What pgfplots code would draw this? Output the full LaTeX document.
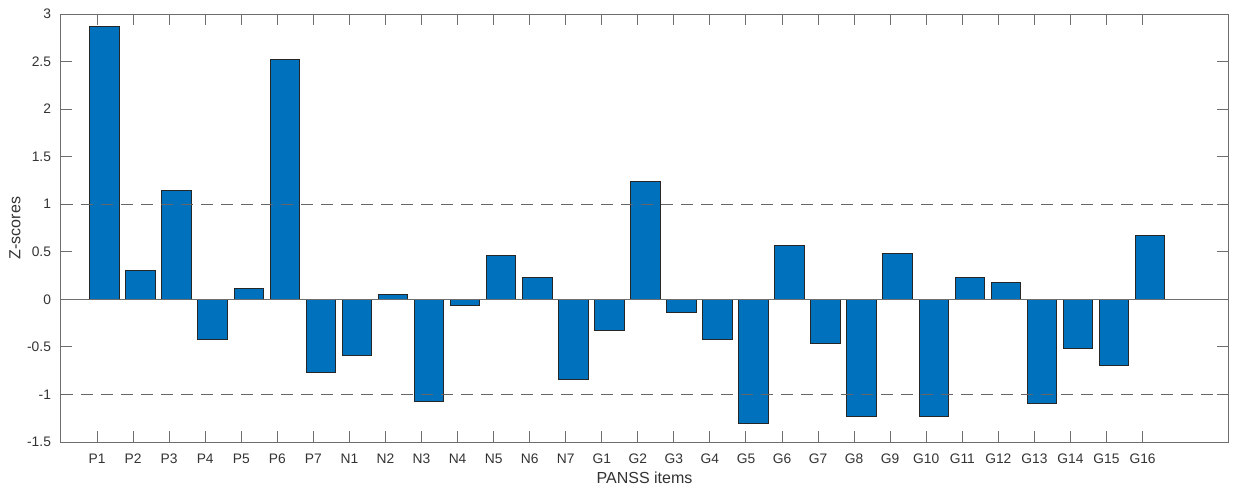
\documentclass[border=0pt]{standalone}
\usepackage{pgfplots}
\pgfplotsset{compat=1.18}
\usepackage{fontspec}
\setmainfont{Liberation Sans}
\definecolor{mblue}{RGB}{0,114,189}
\definecolor{axgray}{RGB}{110,110,110}
\begin{document}
\begin{tikzpicture}
\begin{axis}[
  scale only axis,
  width=583.5pt, height=214pt,
  xmin=0, xmax=32.37,
  ymin=-1.5, ymax=3,
  ybar, bar width=0.82, bar shift=0.21,
  xtick={1,...,30},
  xticklabels={P1,P2,P3,P4,P5,P6,P7,N1,N2,N3,N4,N5,N6,N7,G1,G2,G3,G4,G5,G6,G7,G8,G9,G10,G11,G12,G13,G14,G15,G16},
  ytick={-1.5,-1,-0.5,0,0.5,1,1.5,2,2.5,3},
  yticklabels={-1.5,-1,-0.5,0,0.5,1,1.5,2,2.5,3},
  tick align=inside,
  major tick length=5.5pt,
  xtick pos=both, ytick pos=both,
  tick style={axgray, line width=0.5pt},
  axis line style={axgray, line width=0.5pt},
  ticklabel style={font=\fontsize{6.9}{8}\selectfont, text=black!80},
  xticklabel style={yshift=-2.5pt},
  yticklabel style={xshift=-1.5pt},
  label style={font=\fontsize{8}{9}\selectfont, text=black!80},
  xlabel={PANSS items},
  ylabel={Z-scores},
  xlabel style={at={(axis description cs:0.5,-0.0841)}, anchor=center},
  ylabel style={at={(axis description cs:-0.0394,0.5)}, anchor=center},
  clip=false,
]
\addplot[fill=mblue, draw=black!85, line width=0.5pt] coordinates {
(1,2.87) (2,0.30) (3,1.14) (4,-0.42) (5,0.11) (6,2.52) (7,-0.77)
(8,-0.59) (9,0.05) (10,-1.07) (11,-0.06) (12,0.46) (13,0.23) (14,-0.84)
(15,-0.33) (16,1.24) (17,-0.14) (18,-0.42) (19,-1.31) (20,0.57) (21,-0.46)
(22,-1.23) (23,0.48) (24,-1.23) (25,0.23) (26,0.18) (27,-1.10) (28,-0.52)
(29,-0.70) (30,0.67)
};
\addplot[forget plot, sharp plot, axgray, line width=0.6pt] coordinates {(0,0) (32.37,0)};
\addplot[forget plot, sharp plot, black!60, dash pattern=on 6pt off 4pt, line width=0.6pt] coordinates {(0,1) (32.37,1)};
\addplot[forget plot, sharp plot, black!60, dash pattern=on 6pt off 4pt, line width=0.6pt] coordinates {(0,-1) (32.37,-1)};
\end{axis}
\pgfresetboundingbox
\path ([xshift=-30.5pt,yshift=-23.5pt]current axis.south west) rectangle ([xshift=2.5pt,yshift=7pt]current axis.north east);
\end{tikzpicture}
\end{document}
